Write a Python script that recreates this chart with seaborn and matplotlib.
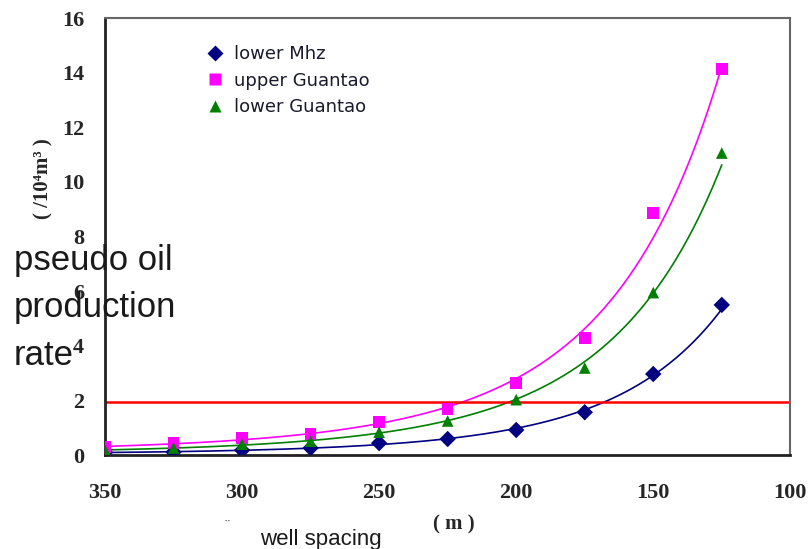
import numpy as np
import pandas as pd
import matplotlib
matplotlib.use("Agg")
import matplotlib.pyplot as plt
import seaborn as sns

# dados
espacamento = [350, 325, 300, 275, 250, 225, 200, 175, 150, 125]
lower_mhz = [0.10, 0.11, 0.18, 0.26, 0.44, 0.59, 0.92, 1.57, 2.97, 5.50]
upper_guantao = [0.29, 0.44, 0.62, 0.77, 1.21, 1.68, 2.64, 4.29, 8.86, 14.14]
lower_guantao = [0.18, 0.26, 0.40, 0.51, 0.84, 1.25, 2.03, 3.19, 5.95, 11.06]
series = ["lower Mhz", "upper Guantao", "lower Guantao"]
limite = 1.95

cores = {"lower Mhz": "#000080", "upper Guantao": "#ff00ff", "lower Guantao": "#008000"}
marcadores = {"lower Mhz": "D", "upper Guantao": "s", "lower Guantao": "^"}

sns.set_style("white")

pontos = pd.DataFrame({
    "x": espacamento * 3,
    "y": lower_mhz + upper_guantao + lower_guantao,
    "serie": np.repeat(series, len(espacamento)),
})

# linha de tendência (ajuste quadrático no log dos valores)
xs = np.linspace(350, 125, 200)
curvas = []
for s, vals in zip(series, [lower_mhz, upper_guantao, lower_guantao]):
    coef = np.polyfit(espacamento, np.log(vals), 2)
    curvas.append(pd.DataFrame({"x": xs, "y": np.exp(np.polyval(coef, xs)), "serie": s}))
curvas = pd.concat(curvas)

fig = plt.figure(figsize=(8.11, 5.49), dpi=100)
ax = fig.add_axes([0.1295, 0.171, 0.845, 0.796])

sns.lineplot(data=curvas, x="x", y="y", hue="serie", palette=cores,
             linewidth=1.2, legend=False, ax=ax, sort=False)
sns.scatterplot(data=pontos, x="x", y="y", hue="serie", style="serie",
                palette=cores, markers=marcadores, s=70, edgecolor="none",
                ax=ax, zorder=3)
ax.axhline(limite, color="#ff0000", linewidth=1.8, zorder=2)

ax.set_xlim(350, 100)
ax.set_ylim(0, 16)
ax.set_xticks([350, 300, 250, 200, 150, 100])
ax.set_yticks(range(0, 17, 2))
ax.tick_params(direction="in", length=6, width=1.2, labelsize=16)
ax.tick_params(axis="x", pad=20)
ax.tick_params(axis="y", pad=15)
for lab in ax.get_xticklabels() + ax.get_yticklabels():
    lab.set_fontfamily("Liberation Serif")
    lab.set_fontweight("bold")
ax.set_xlabel("")
ax.set_ylabel("")

for lado in ["left", "bottom"]:
    ax.spines[lado].set_color("#222222")
    ax.spines[lado].set_linewidth(2)
for lado in ["top", "right"]:
    ax.spines[lado].set_color("#666666")
    ax.spines[lado].set_linewidth(1.5)

leg = ax.legend(loc="upper left", bbox_to_anchor=(0.115, 0.975), frameon=False,
                handletextpad=0.3, labelspacing=0.47, handlelength=1.6,
                prop={"family": "DejaVu Sans", "size": 13})
for t in leg.get_texts():
    t.set_color("#1a1a2e")

fig.text(0.054, 0.674, "( /10⁴m³ )", rotation=90, fontsize=15,
         fontweight="bold", family=["Liberation Serif", "DejaVu Serif"],
         ha="center", va="center")
fig.text(0.017, 0.439, "pseudo oil\nproduction\nrate", fontsize=25,
         family="Liberation Sans", color="#1a1a1a", ha="left", va="center",
         linespacing=1.54)
fig.text(0.56, 0.045, "( m )", fontsize=15, fontweight="bold",
         family="Liberation Serif", ha="center", va="center")
fig.text(0.395, 0.018, "well spacing", fontsize=16, family="Liberation Sans",
         color="#1a1a1a", ha="center", va="center")
fig.text(0.28, 0.038, "¨", fontsize=10, color="#555555", ha="center", va="center")

fig.savefig("out.png", dpi=100)
plt.close(fig)
